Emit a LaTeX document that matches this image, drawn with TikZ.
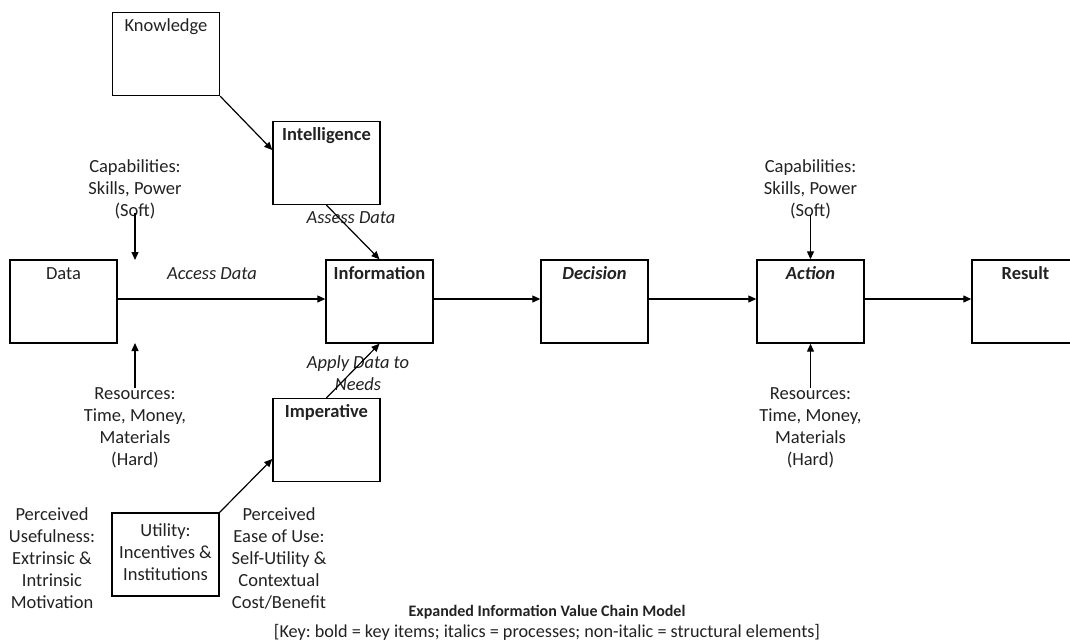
\documentclass[tikz,border=0pt]{standalone}
\usepackage{fontspec}
\setmainfont{Carlito}
\usetikzlibrary{arrows.meta,calc}
\definecolor{ink}{HTML}{222222}
\frenchspacing
\begin{document}
\begin{tikzpicture}[x=1pt,y=-1pt,
  every node/.append style={font=\fontsize{18.5}{22}\selectfont},
  box/.style={draw=black, line width=1.4pt, minimum width=107pt, minimum height=83pt, inner sep=0pt},
  boxlabel/.style={anchor=base, inner sep=0pt, text=ink},
  note/.style={align=center, inner sep=0pt, text=ink},
  caption/.style={inner sep=0pt, text=ink},
  flow/.style={draw=black, line width=1.2pt, -{Triangle[length=8pt,width=7pt]}}]

\useasboundingbox (0,0) rectangle (1070,643);

% boxes of the chain
\node[box] (know)  at (166,54)    {};
\node[box] (intel) at (326.5,163) {};
\node[box] (data)  at (63.5,301.5) {};
\node[box] (info)  at (379.5,301.5) {};
\node[box] (imper) at (326.5,440) {};
\node[box] (util)  at (165.5,554.5) {};
\node[box] (dec)   at (594.5,301.5) {};
\node[box] (act)   at (810.5,301.5) {};
\node[box] (res)   at (1025.5,301.5) {};

% box titles
\node[boxlabel] (knowT)  at ([yshift=-20pt]know.north)  {Knowledge};
\node[boxlabel] (intelT) at ([yshift=-20pt]intel.north) {\bfseries Intelligence};
\node[boxlabel] (dataT)  at ([yshift=-20pt]data.north)  {Data};
\node[boxlabel] (infoT)  at ([yshift=-20pt]info.north)  {\bfseries Information};
\node[boxlabel] (imperT) at ([yshift=-20pt]imper.north) {\bfseries Imperative};
\node[boxlabel] (decT)   at ([yshift=-20pt]dec.north)   {\bfseries\itshape Decision};
\node[boxlabel] (actT)   at ([yshift=-20pt]act.north)   {\bfseries\itshape Action};
\node[boxlabel] (resT)   at ([yshift=-20pt]res.north)   {\bfseries Result};
\node[note] (utilT) at (165.5,552) {Utility:\\Incentives \&\\Institutions};

% free-standing annotations
\node[note] (capL) at (135,189) {Capabilities:\\Skills, Power\\(Soft)};
\node[note] (resL) at (135,428) {Resources:\\Time, Money,\\Materials\\(Hard)};
\node[note] (capR) at (810.5,189) {Capabilities:\\Skills, Power\\(Soft)};
\node[note] (resR) at (810.5,428) {Resources:\\Time, Money,\\Materials\\(Hard)};
\node[note] (pu) at (52,558) {Perceived\\Usefulness:\\Extrinsic \&\\Intrinsic\\Motivation};
\node[note] (pe) at (279,558) {Perceived\\Ease of Use:\\Self-Utility \&\\Contextual\\Cost/Benefit};

% process labels
\node[note, font=\fontsize{18.5}{22}\itshape\selectfont] (access) at (212,274) {Access Data};
\node[note, font=\fontsize{18.5}{22}\itshape\selectfont] (assess) at (351,218) {Assess Data};
\node[note, font=\fontsize{18.5}{22}\itshape\selectfont] (apply)  at (358,373) {Apply Data to\\Needs};

% caption
\node[caption, font=\bfseries\fontsize{16}{19}\selectfont] (title) at (547,612) {Expanded Information Value Chain Model};
\node[caption, font=\fontsize{18.2}{21}\selectfont] (key) at (547,632) {[Key: bold = key items; italics = processes; non-italic = structural elements]};

% anchor points of the input arrows
\coordinate (capLs) at (135,213);
\coordinate (capLe) at (135,260);
\coordinate (resLs) at (135,388);
\coordinate (resLe) at (135,343);
\coordinate (capRs) at (810.5,215);
\coordinate (resRs) at (810.5,388);

% connectors
\draw[flow] (know.south east) -- ([yshift=13pt]intel.west);
\draw[flow] (intel.south) -- (info.north);
\draw[flow] (imper.north) -- (info.south);
\draw[flow] (util.north east) -- ([yshift=-19pt]imper.west);
\draw[flow] ([yshift=2.5pt]data.east) -- ([yshift=2.5pt]info.west);
\draw[flow] ([yshift=2.5pt]info.east) -- ([yshift=2.5pt]dec.west);
\draw[flow] ([yshift=2.5pt]dec.east) -- ([yshift=2.5pt]act.west);
\draw[flow] ([yshift=2.5pt]act.east) -- ([yshift=2.5pt]res.west);
\draw[flow] (capLs) -- (capLe);
\draw[flow] (resLs) -- (resLe);
\draw[flow] (capRs) -- (act.north);
\draw[flow] (resRs) -- (act.south);
\end{tikzpicture}
\end{document}
